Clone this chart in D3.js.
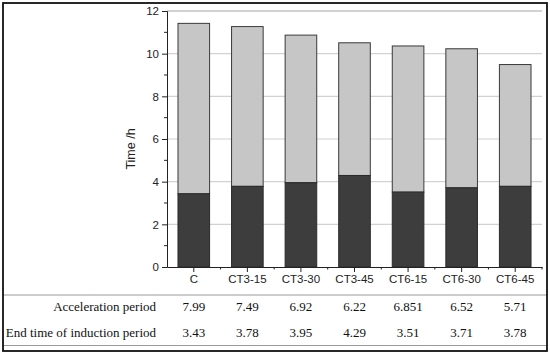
<!DOCTYPE html>
<html>
<head>
<meta charset="utf-8">
<script src="https://cdn.jsdelivr.net/npm/d3@7"></script>
<style>
  body { margin: 0; background: #fff; }
  svg { display: block; }
  .sans { font-family: "Liberation Sans", Arial, Helvetica, sans-serif; }
  .serif { font-family: "Liberation Serif", "Times New Roman", Times, serif; }
</style>
</head>
<body>
<script>
// chart data
const categories = ['C', 'CT3-15', 'CT3-30', 'CT3-45', 'CT6-15', 'CT6-30', 'CT6-45'];
const induction = [3.43, 3.78, 3.95, 4.29, 3.51, 3.71, 3.78];
const acceleration = [7.99, 7.49, 6.92, 6.22, 6.851, 6.52, 5.71];
const yTicks = [0, 2, 4, 6, 8, 10, 12];
const rowLabels = ['Acceleration period', 'End time of induction period'];

const W = 550, H = 353;
const margin = { left: 167, right: 8, top: 11, bottom: 86 };

const svg = d3.select('body').append('svg')
  .attr('width', W)
  .attr('height', H);

const x = d3.scaleBand()
  .domain(categories)
  .range([margin.left, W - margin.right])
  .paddingInner(0.41)
  .paddingOuter(0.205);

const y = d3.scaleLinear()
  .domain([0, 12])
  .range([H - margin.bottom, margin.top]);

// gridlines
svg.append('g')
  .selectAll('line')
  .data(yTicks.filter(d => d > 0))
  .enter()
  .append('line')
  .attr('x1', margin.left)
  .attr('x2', W - margin.right)
  .attr('y1', d => y(d))
  .attr('y2', d => y(d))
  .attr('stroke', '#d2d2d2')
  .attr('stroke-width', d => d == 12 ? 2 : 1.2);

// stacked bars
const stacked = categories.map((c, i) => ({ cat: c, a: induction[i], b: acceleration[i] }));

svg.append('g')
  .selectAll('rect')
  .data(stacked)
  .enter()
  .append('rect')
  .attr('x', d => x(d.cat))
  .attr('width', x.bandwidth())
  .attr('y', d => y(d.a + d.b))
  .attr('height', d => y(d.a) - y(d.a + d.b))
  .attr('fill', '#c6c6c6')
  .attr('stroke', '#3a3a3a')
  .attr('stroke-width', 1);

svg.append('g')
  .selectAll('rect')
  .data(stacked)
  .enter()
  .append('rect')
  .attr('x', d => x(d.cat))
  .attr('width', x.bandwidth())
  .attr('y', d => y(d.a))
  .attr('height', d => y(0) - y(d.a))
  .attr('fill', '#3d3d3d')
  .attr('stroke', '#2a2a2a')
  .attr('stroke-width', 1);

// y axis
const yAxis = svg.append('g')
  .attr('class', 'sans')
  .attr('transform', 'translate(' + margin.left + ',0)')
  .call(d3.axisLeft(y).tickValues(yTicks).tickSize(5).tickPadding(3));
yAxis.attr('font-family', null);
yAxis.append('g')
  .selectAll('line')
  .data([1, 3, 5, 7, 9, 11])
  .enter()
  .append('line')
  .attr('x1', -3)
  .attr('x2', 0)
  .attr('y1', d => y(d))
  .attr('y2', d => y(d))
  .attr('stroke', '#222');
yAxis.selectAll('text')
  .attr('font-size', 11.5)
  .attr('fill', '#222');
yAxis.select('.domain').attr('stroke', '#222');
yAxis.selectAll('.tick line').attr('stroke', '#222');

svg.append('text')
  .attr('class', 'sans')
  .attr('transform', 'translate(135,149) rotate(-90)')
  .attr('text-anchor', 'middle')
  .attr('font-size', 12.5)
  .attr('fill', '#222')
  .text('Time /h');

// x axis, major ticks at bar centres
const xAxis = svg.append('g')
  .attr('class', 'sans')
  .attr('transform', 'translate(0,' + y(0) + ')')
  .call(d3.axisBottom(x).tickSize(5).tickPadding(3).tickSizeOuter(0));
xAxis.attr('font-family', null);
xAxis.select('.domain').attr('stroke', '#222');
xAxis.selectAll('.tick line').attr('stroke', '#222');
xAxis.selectAll('text')
  .attr('font-size', 11.5)
  .attr('fill', '#222');
// minor ticks between the bars
const step = x.step();
xAxis.append('g')
  .selectAll('line')
  .data(categories)
  .enter()
  .append('line')
  .attr('x1', d => x(d) + x.bandwidth() / 2 + step / 2)
  .attr('x2', d => x(d) + x.bandwidth() / 2 + step / 2)
  .attr('y1', 0)
  .attr('y2', 2.5)
  .attr('stroke', '#222');

// table
svg.append('line')
  .attr('x1', 3).attr('x2', W - 3)
  .attr('y1', 295).attr('y2', 295)
  .attr('stroke', '#9a9a9a');
svg.append('line')
  .attr('x1', 3).attr('x2', W - 3)
  .attr('y1', 345.5).attr('y2', 345.5)
  .attr('stroke', '#9a9a9a');

const rows = [acceleration, induction];
const rowY = [310.5, 337];
rows.forEach((vals, r) => {
  svg.append('text')
    .attr('class', 'serif')
    .attr('x', 156)
    .attr('y', rowY[r])
    .attr('text-anchor', 'end')
    .attr('font-size', 13)
    .attr('fill', '#111')
    .text(rowLabels[r]);
  svg.append('g')
    .attr('class', 'serif')
    .selectAll('text')
    .data(vals)
    .enter()
    .append('text')
    .attr('x', (d, i) => x(categories[i]) + x.bandwidth() / 2)
    .attr('y', rowY[r])
    .attr('text-anchor', 'middle')
    .attr('font-size', 13)
    .attr('fill', '#111')
    .text(d => d);
});

// outer frame
svg.append('rect')
  .attr('x', 3).attr('y', 3)
  .attr('width', W - 6).attr('height', H - 5)
  .attr('fill', 'none')
  .attr('stroke', '#111')
  .attr('stroke-width', 1.8);
</script>
</body>
</html>
